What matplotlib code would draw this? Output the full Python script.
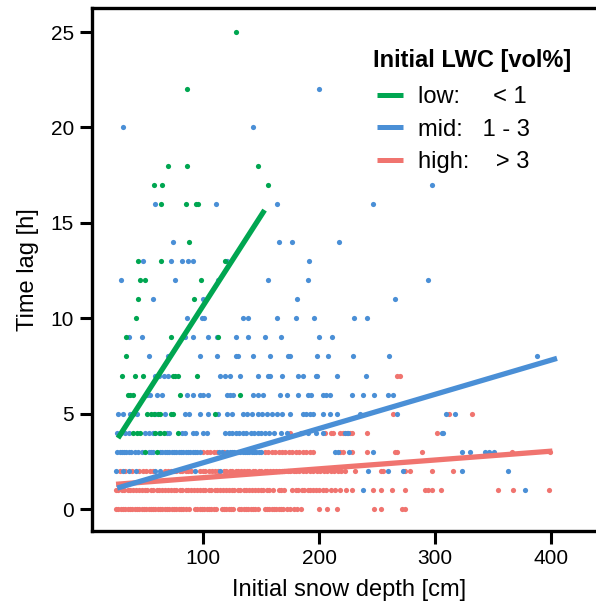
import matplotlib
matplotlib.use("Agg")
import matplotlib.pyplot as plt
from matplotlib.lines import Line2D

plt.rcParams['font.family'] = ['Liberation Sans', 'DejaVu Sans']

# colours of the three LWC classes
GREEN = '#00a651'
BLUE = '#4a8fd6'
RED = '#f0746f'

# time lag [h] -> initial snow depth [cm] of each point, per LWC class
low_rows = {
    3: [50, 60],
    4: [40, 43, 46, 59, 63, 66, 78],
    5: [40, 52, 55, 58, 61, 63, 72, 74, 110],
    6: [35, 37, 40, 80, 132],
    7: [30, 41, 48, 74, 76, 78, 95],
    8: [34],
    9: [34, 72, 113],
    10: [42],
    11: [44, 92],
    12: [46, 50, 98],
    13: [44, 64, 119],
    14: [88],
    16: [64, 85, 94, 96],
    17: [58, 65, 156],
    18: [70, 86, 147],
    22: [86],
    25: [128],
}

mid_rows = {
    1: [238, 377],
    2: [25, 31, 36, 42, 59, 63, 93, 115, 242, 259, 272, 323, 363],
    3: [26, 28, 30, 32, 34, 36, 38, 41, 44, 47, 53, 55, 57, 63, 65, 67, 69, 71,
        73, 75, 77, 79, 81, 83, 85, 87, 89, 91, 93, 95, 97, 114, 116, 121, 123,
        125, 127, 132, 134, 136, 138, 140, 142, 144, 146, 148, 150, 214, 216,
        226, 246, 323, 330, 343, 346, 351],
    4: [26, 29, 33, 36, 50, 53, 57, 62, 69, 71, 82, 84, 91, 94, 100, 103, 119,
        122, 125, 128, 131, 134, 137, 141, 144, 147, 150, 153, 157, 161, 167,
        172, 184, 190, 197, 203, 222, 225, 306, 307],
    5: [27, 31, 37, 43, 59, 67, 84, 88, 97, 104, 113, 121, 125, 134, 138, 142,
        147, 151, 155, 159, 164, 168, 175, 186, 189, 192, 195, 203, 209, 215,
        235, 267, 309, 317],
    6: [52, 54, 60, 65, 86, 91, 97, 100, 104, 121, 123, 126, 143, 147, 152, 166,
        172, 182, 190, 193, 203, 206, 209, 228, 238, 247, 259, 264],
    7: [59, 62, 66, 70, 115, 119, 123, 132, 147, 156, 158, 168, 182, 186, 197,
        198, 215, 240],
    8: [53, 70, 97, 112, 128, 130, 143, 158, 173, 175, 198, 208, 229, 260, 388],
    9: [36, 47, 84, 91, 104, 112, 128, 139, 153, 167, 200, 211],
    10: [86, 99, 101, 134, 139, 164, 180, 196, 230, 241],
    11: [57, 100, 181, 265],
    12: [29, 76, 113, 156, 190, 294],
    13: [48, 72, 82, 87, 91, 121, 191],
    14: [74, 165, 177, 217],
    16: [59, 111, 164, 246],
    17: [297],
    20: [31, 143],
    22: [200],
}

high_rows = {
    0: [25, 27, 29, 31, 33, 35, 37, 39, 41, 43, 45, 47, 49, 51, 53, 55, 57, 59,
        61, 63, 65, 67, 69, 71, 73, 75, 77, 79, 81, 83, 85, 88, 93, 95, 97, 99,
        101, 103, 105, 107, 109, 111, 116, 118, 120, 122, 124, 126, 131, 133,
        135, 137, 139, 141, 143, 145, 147, 153, 155, 157, 159, 161, 163, 165,
        167, 169, 172, 175, 178, 181, 184, 200, 207, 215, 247, 253, 271, 274],
    1: [25, 27, 30, 32, 35, 37, 40, 42, 45, 47, 50, 52, 55, 57, 60, 62, 65, 67,
        70, 72, 75, 77, 80, 82, 85, 87, 90, 92, 95, 97, 100, 102, 105, 107, 110,
        112, 115, 117, 120, 122, 125, 127, 130, 132, 135, 137, 140, 142, 145,
        147, 150, 152, 155, 157, 160, 165, 167, 170, 177, 180, 182, 185, 187,
        190, 192, 195, 197, 200, 203, 206, 210, 214, 218, 223, 228, 246, 253,
        263, 274, 291, 294, 297, 305, 354, 367, 398],
    2: [28, 33, 39, 45, 48, 51, 54, 57, 67, 70, 72, 75, 77, 80, 82, 85, 87, 90,
        97, 100, 102, 105, 108, 110, 113, 118, 120, 123, 125, 128, 130, 133,
        135, 138, 140, 143, 145, 148, 150, 153, 155, 158, 160, 163, 165, 168,
        170, 173, 175, 178, 180, 183, 186, 189, 192, 195, 198, 201, 204, 207,
        210, 213, 216, 219, 222, 231, 253, 255, 274, 278, 297, 315],
    3: [100, 103, 106, 109, 112, 118, 130, 153, 156, 159, 162, 165, 168, 171,
        174, 177, 180, 183, 186, 189, 192, 195, 218, 221, 228, 241, 265, 267,
        289, 366, 399],
    4: [175, 205, 210, 212, 218, 221, 224, 227, 228, 241, 302],
    5: [264, 312, 332],
    7: [267, 270],
}

# fitted regression lines: snow depth range and fitted time lag at its ends
low_fit_x = [26.7, 153]
low_fit_y = [3.72, 15.67]
mid_fit_x = [26, 405]
mid_fit_y = [1.1, 7.9]
high_fit_x = [25, 401]
high_fit_y = [1.3, 3.04]

legend_title = 'Initial LWC [vol%]'
legend_labels = ['low:     < 1', 'mid:   1 - 3', 'high:    > 3']
y_ticks = [0, 5, 10, 15, 20, 25]
x_ticks = [100, 200, 300, 400]


def flatten(rows):
    xs, ys = [], []
    for y, row in rows.items():
        xs += row
        ys += [y] * len(row)
    return xs, ys


fig = plt.figure(figsize=(5.96, 6.08), dpi=100)
ax = fig.add_axes([0.1544, 0.1266, 0.861, 0.8602])

for rows, col in [(high_rows, RED), (mid_rows, BLUE), (low_rows, GREEN)]:
    xs, ys = flatten(rows)
    ax.scatter(xs, ys, s=14, color=col, linewidths=0, zorder=2)

ax.plot(high_fit_x, high_fit_y, color=RED, lw=3.8, solid_capstyle='butt', zorder=3)
ax.plot(mid_fit_x, mid_fit_y, color=BLUE, lw=3.8, solid_capstyle='butt', zorder=4)
ax.plot(low_fit_x, low_fit_y, color=GREEN, lw=3.8, solid_capstyle='butt', zorder=5)

ax.set_xlim(4.3, 446.5)
ax.set_ylim(-1.15, 26.26)
ax.set_xticks(x_ticks)
ax.set_yticks(y_ticks)
ax.tick_params(direction='out', length=9, width=2.2, labelsize=15, pad=4)
for sp in ax.spines.values():
    sp.set_linewidth(2.4)

ax.set_xlabel('Initial snow depth [cm]', fontsize=17, labelpad=8)
ax.set_ylabel('Time lag [h]', fontsize=17, labelpad=8)

# legend: bold title as its own text, entries below it
ax.text(0.548, 0.9006, legend_title, transform=ax.transAxes, fontsize=17,
        fontweight='bold', ha='left', va='center')
handles = [Line2D([], [], color=c, lw=3.6, solid_capstyle='butt')
           for c in (GREEN, BLUE, RED)]
ax.legend(handles, legend_labels, loc='upper left',
          bbox_to_anchor=(0.547, 0.860), frameon=False, fontsize=17,
          handlelength=1.1, handletextpad=0.6, labelspacing=0.45,
          borderpad=0.2, borderaxespad=0)

fig.savefig('out.png', dpi=100)
